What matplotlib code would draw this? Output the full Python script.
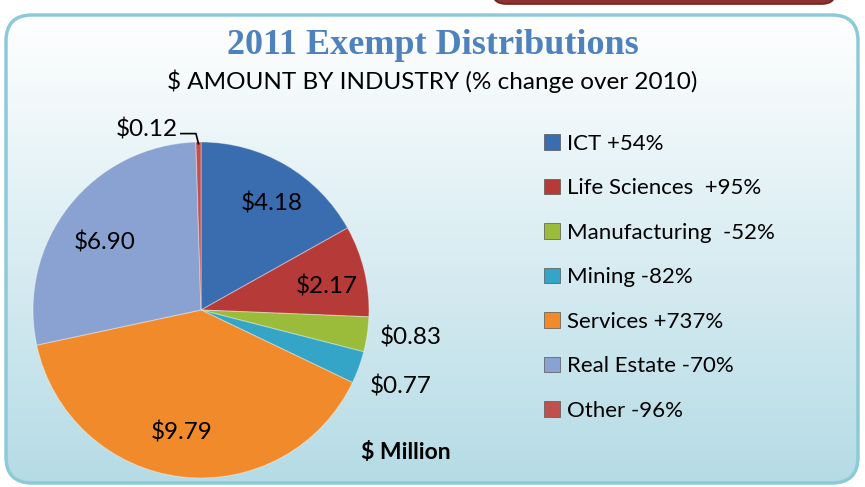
import numpy as np
import matplotlib.pyplot as plt
from matplotlib.patches import FancyBboxPatch

# chart data
industries = ['ICT', 'Life Sciences', 'Manufacturing', 'Mining', 'Services', 'Real Estate', 'Other']
changes = ['+54%', ' +95%', ' -52%', '-82%', '+737%', '-70%', '-96%']
amounts = [4.18, 2.17, 0.83, 0.77, 9.79, 6.90, 0.12]
colors = ['#3a6cb0', '#b53a38', '#9bbb3b', '#34a5c6', '#f08a2a', '#8aa2d2', '#c0504d']

W, H = 865, 487
fig = plt.figure(figsize=(W / 100, H / 100), dpi=100)
fig.patch.set_facecolor('white')

# background panel with vertical gradient
bg = fig.add_axes([0, 0, 1, 1])
bg.set_xlim(0, W)
bg.set_ylim(H, 0)
bg.axis('off')

red = FancyBboxPatch((492, -30), 344, 34, boxstyle='round,pad=0,rounding_size=14',
                     facecolor='#8e3230', edgecolor='#6e2523', lw=1.2)
bg.add_patch(red)

box = FancyBboxPatch((6, 15), 852, 468, boxstyle='round,pad=0,rounding_size=26',
                     facecolor='none', edgecolor='#8ccad9', lw=2.5, zorder=3)
bg.add_patch(box)
grad = np.linspace(0, 1, 256).reshape(-1, 1)
top = np.array([1.0, 1.0, 1.0])
bot = np.array([0.71, 0.86, 0.90])
img = top + (bot - top) * grad[..., None]
im = bg.imshow(img, extent=[6, 858, 483, 15], aspect='auto', zorder=1)
clip = FancyBboxPatch((6, 15), 852, 468, boxstyle='round,pad=0,rounding_size=26',
                      facecolor='none', edgecolor='none', transform=bg.transData)
bg.add_patch(clip)
im.set_clip_path(clip)

fig.text(0.5, 1 - 46 / H, '2011 Exempt Distributions', ha='center', va='center',
         fontsize=26, fontweight='bold', color='#4f81bd', family='Liberation Serif')
fig.text(0.5, 1 - 81 / H, '$ AMOUNT BY INDUSTRY (% change over 2010)', ha='center', va='center',
         fontsize=17.5, color='black', family='Lato')

# pie
ax = fig.add_axes([33 / W, 1 - 478 / H, 336 / W, 336 / H])
wedges, _ = ax.pie(amounts, colors=colors, startangle=90, counterclock=False, radius=1,
                   wedgeprops=dict(edgecolor=(1, 1, 1, 0.35), linewidth=0.8))
ax.set_xlim(-1, 1)
ax.set_ylim(-1, 1)
ax.set_aspect('auto')
ax.axis('off')

# label distance and angle nudge per slice
label_r = [0.76, 0.76, 1.26, 1.27, 0.74, 0.70, 1.12]
label_da = [-3, -3, 1, -1, -2, 3, 16]
for w, v, r, da in zip(wedges, amounts, label_r, label_da):
    ang = np.deg2rad((w.theta1 + w.theta2) / 2 + da)
    x, y = r * np.cos(ang), r * np.sin(ang)
    ax.text(x, y, f'${v:.2f}', ha='center', va='center', fontsize=17.5, family='Lato', clip_on=False)

# leader for the tiny slice
w = wedges[-1]
ang = np.deg2rad((w.theta1 + w.theta2) / 2)
ax.plot([-0.12, -0.03, np.cos(ang) * 0.99], [1.05, 1.05, np.sin(ang) * 0.99],
        color='black', lw=1.2, clip_on=False)

ax.text(1.22, -0.85, '$ Million', ha='center', va='center', fontsize=16.5, fontweight='bold',
        family='Lato', clip_on=False)

# legend
handles = [plt.Rectangle((0, 0), 1, 1, facecolor=c, edgecolor='#555555', lw=0.5) for c in colors]
labels = [f'{n} {c}' for n, c in zip(industries, changes)]
fig.legend(handles, labels, loc='upper left', bbox_to_anchor=(524 / W, 1 - 114 / H),
           frameon=False, prop=dict(family='Lato', size=16), handlelength=0.7,
           handleheight=0.7, handletextpad=0.35, labelspacing=1.1)

fig.savefig('out.png', dpi=100)
